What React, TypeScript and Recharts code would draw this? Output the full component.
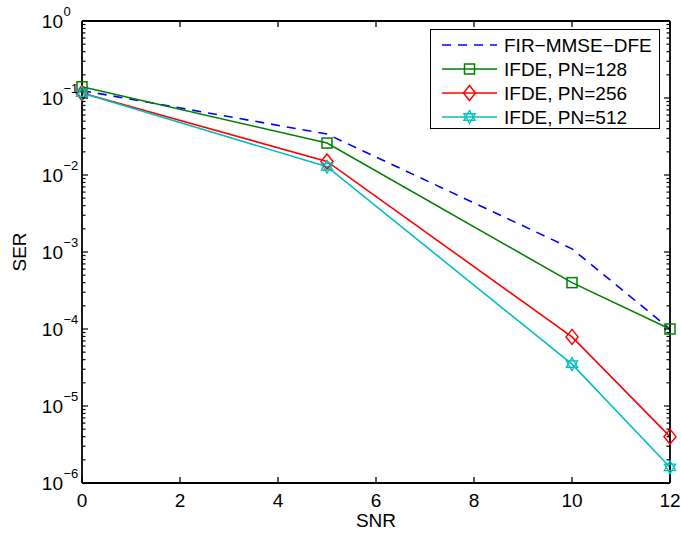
import React from 'react';
import { LineChart, Line, XAxis, YAxis, Legend, Label } from 'recharts';

const snr = [0, 5, 10, 12];
const firMmseDfe = [0.125, 0.034, 1.1e-3, 1.0e-4];
const ifdePn128 = [0.14, 0.026, 4.0e-4, 1.0e-4];
const ifdePn256 = [0.116, 0.015, 7.9e-5, 4.0e-6];
const ifdePn512 = [0.116, 0.0128, 3.5e-5, 1.6e-6];
const xTicks = [0, 2, 4, 6, 8, 10, 12];
const yDecades = [-6, -5, -4, -3, -2, -1, 0];
const seriesNames = ['FIR\u2212MMSE\u2212DFE', 'IFDE, PN=128', 'IFDE, PN=256', 'IFDE, PN=512'];

const rows = snr.map((x, i) => ({
  snr: x,
  fir: firMmseDfe[i],
  pn128: ifdePn128[i],
  pn256: ifdePn256[i],
  pn512: ifdePn512[i],
}));

const yTicks: number[] = [];
yDecades.forEach((d) => {
  yTicks.push(Math.pow(10, d));
  if (d < 0) for (let m = 2; m <= 9; m++) yTicks.push(m * Math.pow(10, d));
});

const FONT = '"Liberation Sans", Arial, Helvetica, sans-serif';
const MINOR = 3.5;
const MAJOR = 6;

const series = [
  { key: 'fir', name: seriesNames[0], color: '#0000ff', dash: '9 7', marker: null },
  { key: 'pn128', name: seriesNames[1], color: '#008000', dash: undefined, marker: 'square' },
  { key: 'pn256', name: seriesNames[2], color: '#ff0000', dash: undefined, marker: 'diamond' },
  { key: 'pn512', name: seriesNames[3], color: '#00bfbf', dash: undefined, marker: 'hexagram' },
];

const Marker = ({ kind, cx, cy, color }: any) => {
  if (cx == null || cy == null) return null;
  if (kind === 'square') {
    return <rect x={cx - 5} y={cy - 5} width={10} height={10} fill="none" stroke={color} strokeWidth={1.5} />;
  }
  if (kind === 'diamond') {
    return (
      <polygon
        points={`${cx},${cy - 7.5} ${cx + 6},${cy} ${cx},${cy + 7.5} ${cx - 6},${cy}`}
        fill="none"
        stroke={color}
        strokeWidth={1.5}
      />
    );
  }
  if (kind === 'hexagram') {
    const r = 6.5;
    const tri = (a0: number) =>
      [0, 1, 2]
        .map((k) => {
          const a = ((a0 + k * 120) * Math.PI) / 180;
          return `${cx + r * Math.cos(a)},${cy + r * Math.sin(a)}`;
        })
        .join(' ');
    return (
      <g>
        <polygon points={tri(-90)} fill="none" stroke={color} strokeWidth={1.3} />
        <polygon points={tri(90)} fill="none" stroke={color} strokeWidth={1.3} />
      </g>
    );
  }
  return null;
};

const isMajor = (v: number) => {
  const l = Math.log10(v);
  return Math.abs(l - Math.round(l)) < 1e-9;
};

const expLabel = (v: number) => {
  const e = Math.round(Math.log10(v));
  return e < 0 ? '\u2212' + Math.abs(e) : String(e);
};

const LeftTick = (props: any) => {
  const { x, y, payload } = props;
  const major = isMajor(payload.value);
  return (
    <g>
      <path d={`M${x},${y}H${x + (major ? MAJOR : MINOR)}`} stroke="#000" strokeWidth={1.2} fill="none" />
      {major && (
        <>
          <text x={x - 19} y={y + 7} textAnchor="end" fontSize={19} fontFamily={FONT} fill="#000">
            10
          </text>
          <text x={x - 18.5} y={y - 5} textAnchor="start" fontSize={13} fontFamily={FONT} fill="#000">
            {expLabel(payload.value)}
          </text>
        </>
      )}
    </g>
  );
};

const RightTick = (props: any) => {
  const { x, y, payload } = props;
  const major = isMajor(payload.value);
  return <path d={`M${x},${y}H${x - (major ? MAJOR : MINOR)}`} stroke="#000" strokeWidth={1.2} fill="none" />;
};

const BottomTick = (props: any) => {
  const { x, y, payload } = props;
  return (
    <g>
      <path d={`M${x},${y}V${y - MAJOR}`} stroke="#000" strokeWidth={1.3} fill="none" />
      <text x={x} y={y + 24} textAnchor="middle" fontSize={19} fontFamily={FONT} fill="#000">
        {payload.value}
      </text>
    </g>
  );
};

const TopTick = (props: any) => {
  const { x, y } = props;
  return <path d={`M${x},${y}V${y + MAJOR}`} stroke="#000" strokeWidth={1.3} fill="none" />;
};

const LegendBox = () => (
  <div style={{ width: 230, height: 100, border: '1px solid #000', background: '#fff', boxSizing: 'border-box' }}>
    <svg width={228} height={98} style={{ display: 'block' }}>
      {series.map((s, i) => {
        const y = 15 + i * 24;
        return (
          <g key={s.key}>
            <line x1={11} x2={66} y1={y} y2={y} stroke={s.color} strokeWidth={1.5} strokeDasharray={s.dash} />
            {s.marker && <Marker kind={s.marker} cx={38.5} cy={y} color={s.color} />}
            <text x={73} y={y + 7} fontSize={19} fontFamily={FONT} fill="#000">
              {s.name}
            </text>
          </g>
        );
      })}
    </svg>
  </div>
);

const axisLineStyle = { stroke: '#000', strokeWidth: 1.8 };

export default function App() {
  return (
    <div style={{ position: 'absolute', left: 0, top: 0, width: 681, height: 535, background: '#fff' }}>
      <LineChart width={681} height={535} data={rows} margin={{ top: 20, right: 10, left: 0, bottom: 0 }}>
        <XAxis
          xAxisId="b"
          dataKey="snr"
          type="number"
          domain={[0, 12]}
          ticks={xTicks}
          interval={0}
          height={52}
          tickSize={0}
          tickMargin={0}
          tickLine={false}
          tick={<BottomTick />}
          axisLine={axisLineStyle}
        >
          <Label
            content={(p: any) => {
              const vb = p.viewBox;
              return (
                <text x={vb.x + vb.width / 2} y={vb.y + 44} textAnchor="middle" fontSize={19} fontFamily={FONT} fill="#000">
                  SNR
                </text>
              );
            }}
          />
        </XAxis>
        <XAxis
          xAxisId="t"
          dataKey="snr"
          type="number"
          orientation="top"
          domain={[0, 12]}
          ticks={xTicks}
          interval={0}
          height={1}
          tickSize={0}
          tickMargin={0}
          tickLine={false}
          tick={<TopTick />}
          axisLine={axisLineStyle}
          allowDataOverflow
        />
        <YAxis
          yAxisId="l"
          type="number"
          scale="log"
          domain={[1e-6, 1]}
          ticks={yTicks}
          interval={0}
          width={82}
          tickSize={0}
          tickMargin={0}
          tickLine={false}
          tick={<LeftTick />}
          axisLine={axisLineStyle}
        >
          <Label
            content={(p: any) => {
              const vb = p.viewBox;
              const cx = vb.x + 26;
              const cy = vb.y + vb.height / 2;
              return (
                <text
                  x={cx}
                  y={cy}
                  transform={`rotate(-90, ${cx}, ${cy})`}
                  textAnchor="middle"
                  fontSize={19}
                  fontFamily={FONT}
                  fill="#000"
                >
                  SER
                </text>
              );
            }}
          />
        </YAxis>
        <YAxis
          yAxisId="r"
          orientation="right"
          type="number"
          scale="log"
          domain={[1e-6, 1]}
          ticks={yTicks}
          interval={0}
          width={1}
          tickSize={0}
          tickMargin={0}
          tickLine={false}
          tick={<RightTick />}
          axisLine={axisLineStyle}
          allowDataOverflow
        />
        {series.map((s) => (
          <Line
            key={s.key}
            xAxisId="b"
            yAxisId="l"
            dataKey={s.key}
            name={s.name}
            type="linear"
            stroke={s.color}
            strokeWidth={1.6}
            strokeDasharray={s.dash}
            isAnimationActive={false}
            dot={
              s.marker
                ? (p: any) => <Marker key={`${s.key}-${p.index}`} kind={s.marker} cx={p.cx} cy={p.cy} color={s.color} />
                : false
            }
            activeDot={false}
          />
        ))}
        <Legend
          layout="vertical"
          align="center"
          verticalAlign="middle"
          content={() => <LegendBox />}
          wrapperStyle={{ left: 430, top: 29, width: 230, height: 100 }}
        />
      </LineChart>
    </div>
  );
}
